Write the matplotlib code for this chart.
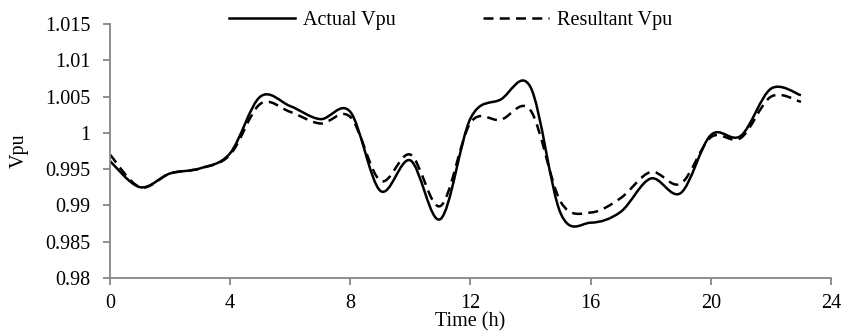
import numpy as np
import matplotlib.pyplot as plt
from matplotlib.path import Path
from matplotlib.patches import PathPatch
from matplotlib.lines import Line2D

plt.rcParams['font.family'] = ['Liberation Serif', 'DejaVu Serif']

# hourly voltage (per unit)
hours = list(range(24))
actual_vpu = [0.9961, 0.9925, 0.9944, 0.9951, 0.9972, 1.0050, 1.0037, 1.0019,
              1.0029, 0.9920, 0.9962, 0.9881, 1.0020, 1.0046, 1.0063, 0.9889,
              0.9876, 0.9891, 0.9937, 0.9917, 0.9997, 0.9996, 1.0061, 1.0052]
resultant_vpu = [0.9970, 0.9925, 0.9944, 0.9951, 0.9970, 1.0040, 1.0029, 1.0013,
                 1.0022, 0.9934, 0.9970, 0.9899, 1.0014, 1.0018, 1.0031, 0.9905,
                 0.9890, 0.9910, 0.9946, 0.9930, 0.9994, 0.9993, 1.0050, 1.0043]

x_ticks = [0, 4, 8, 12, 16, 20, 24]
y_ticks = [0.98, 0.985, 0.99, 0.995, 1, 1.005, 1.01, 1.015]
y_labels = ['0.98', '0.985', '0.99', '0.995', '1', '1.005', '1.01', '1.015']


def smooth_path(x, y):
    # Excel-style smoothed line: cubic Bezier through every point
    p = np.column_stack([x, y]).astype(float)
    ext = np.vstack([p[0], p, p[-1]])
    verts = [p[0]]
    codes = [Path.MOVETO]
    for i in range(len(p) - 1):
        p0, p1, p2, p3 = ext[i], ext[i + 1], ext[i + 2], ext[i + 3]
        c1 = p1 + (p2 - p0) / 6
        c2 = p2 - (p3 - p1) / 6
        verts += [c1, c2, p2]
        codes += [Path.CURVE4] * 3
    return Path(verts, codes)


fig = plt.figure(figsize=(8.41, 3.35), dpi=100)
ax = fig.add_axes([0.1308, 0.171, 0.8573, 0.7565])

ax.add_patch(PathPatch(smooth_path(hours, actual_vpu), fill=False,
                       edgecolor='black', lw=1.8, capstyle='butt'))
ax.add_patch(PathPatch(smooth_path(hours, resultant_vpu), fill=False,
                       edgecolor='black', lw=1.8, linestyle=(0, (4, 2.5))))

ax.set_xlim(0, 24)
ax.set_ylim(0.98, 1.015)
ax.set_xticks(x_ticks)
ax.set_yticks(y_ticks)
ax.set_yticklabels(y_labels)

for side in ['top', 'right']:
    ax.spines[side].set_visible(False)
for side in ['left', 'bottom']:
    ax.spines[side].set_color('#868686')
    ax.spines[side].set_linewidth(1.3)
ax.tick_params(direction='out', length=5, width=1.3, color='#868686',
               labelsize=14.5, labelcolor='black')
ax.tick_params(axis='x', pad=6.5)
ax.tick_params(axis='y', pad=9)

ax.set_xlabel('Time (h)', fontsize=14.5, labelpad=0)
ax.set_ylabel('Vpu', fontsize=14.5, labelpad=12)

handles = [Line2D([], [], color='black', lw=1.8),
           Line2D([], [], color='black', lw=1.8, linestyle=(0, (4, 2.5)))]
fig.legend(handles, ['Actual Vpu', 'Resultant Vpu'], loc='center',
           bbox_to_anchor=(0.536, 0.94), ncol=2, frameon=False,
           fontsize=14.5, handlelength=3.3, handletextpad=0.4,
           columnspacing=4.3, borderpad=0)

fig.savefig('out.png', dpi=100)
